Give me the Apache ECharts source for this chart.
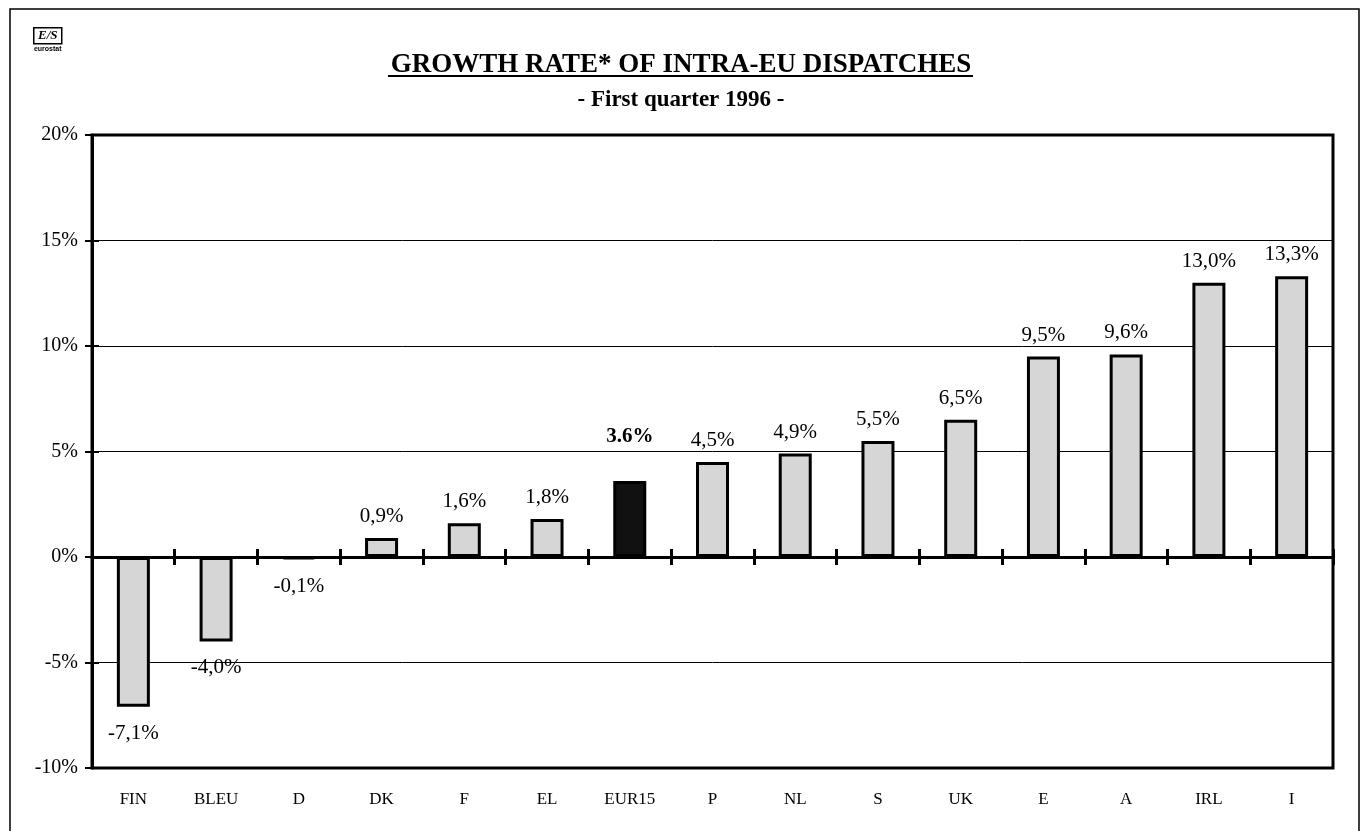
<!DOCTYPE html>
<html><head><meta charset="utf-8">
<script src="https://cdn.jsdelivr.net/npm/echarts@6/dist/echarts.min.js"></script>
<style>html,body{margin:0;padding:0;background:#fff}#c{width:1362px;height:831px}</style>
</head><body><div id="c"></div>
<script>
const categories = ['FIN','BLEU','D','DK','F','EL','EUR15','P','NL','S','UK','E','A','IRL','I'];
const growthValues = [-7.1,-4.0,-0.1,0.9,1.6,1.8,3.6,4.5,4.9,5.5,6.5,9.5,9.6,13.0,13.3];
const highlightCategory = 'EUR15';
const yMin = -10, yMax = 20, yStep = 5;
const titleText = 'GROWTH RATE* OF INTRA-EU DISPATCHES';
const subtitleText = '- First quarter 1996 -';

const SERIF = "'Liberation Serif','Times New Roman',serif";
const chart = echarts.init(document.getElementById('c'), null, {renderer:'canvas'});

const barData = growthValues.map((v, i) => {
  const hi = categories[i] === highlightCategory;
  return {
    value: v,
    itemStyle: hi ? {color:'#111', borderColor:'#000'} : {},
    label: {
      position: v < 0 ? 'bottom' : 'top',
      distance: v < 0 ? 16 : (hi ? 34 : 11),
      fontWeight: hi ? 'bold' : 'normal',
      formatter: hi ? (p => p.value.toFixed(1) + '%') : (p => p.value.toFixed(1).replace('.', ',') + '%')
    }
  };
});

const zeroAxisBase = {
  type:'category', data: categories, position:'bottom',
  axisLine:{onZero:true, onZeroAxisIndex:0, lineStyle:{color:'#000', width:3}},
  axisLabel:{show:false}, splitLine:{show:false}
};

chart.setOption({
  animation:false,
  backgroundColor:'#fff',
  title:[
    {text:titleText, left:'center', top:47, textStyle:{fontFamily:SERIF, fontSize:27, fontWeight:'bold', color:'#000'}},
    {text:subtitleText, left:'center', top:84, textStyle:{fontFamily:SERIF, fontSize:23, fontWeight:'bold', color:'#000'}}
  ],
  grid:{left:92, right:29, top:135, bottom:63, show:true, borderColor:'#000', borderWidth:3, backgroundColor:'transparent'},
  xAxis:[
    {type:'category', data:categories, position:'bottom',
     axisLine:{onZero:false, show:false}, axisTick:{show:false},
     axisLabel:{fontFamily:SERIF, fontSize:17, color:'#000', margin:23}},
    Object.assign({}, zeroAxisBase, {axisTick:{show:true, inside:false, length:8, lineStyle:{color:'#000', width:3}}}),
    Object.assign({}, zeroAxisBase, {axisTick:{show:true, inside:true, length:8, lineStyle:{color:'#000', width:3}}})
  ],
  yAxis:[
    {type:'value', min:yMin, max:yMax, interval:yStep, position:'left',
     axisLine:{show:true, lineStyle:{color:'#000', width:3}},
     axisTick:{show:true, length:7, lineStyle:{color:'#000', width:2}},
     axisLabel:{fontFamily:SERIF, fontSize:20, color:'#000', margin:14, formatter: v => v + '%'},
     splitLine:{show:true, lineStyle:{color:'#000', width:1}}},
    {type:'value', min:yMin, max:yMax, interval:yStep, position:'left',
     axisLine:{show:false}, axisLabel:{show:false}, splitLine:{show:false},
     axisTick:{show:true, inside:true, length:7, lineStyle:{color:'#000', width:2}}}
  ],
  series:[{
    type:'bar', xAxisIndex:0, yAxisIndex:0, data:barData, barWidth:33,
    itemStyle:{color:'#d6d6d6', borderColor:'#000', borderWidth:3},
    label:{show:true, fontFamily:SERIF, fontSize:21, color:'#000'}
  }],
  graphic:[
    {type:'rect', shape:{x:10, y:9, width:1349, height:840}, style:{fill:'none', stroke:'#000', lineWidth:1.5}, z:-1},
    {type:'line', shape:{x1:388, y1:76, x2:973, y2:76}, style:{stroke:'#000', lineWidth:2}},
    {type:'group', left:33, top:27, children:[
      {type:'rect', shape:{x:0, y:0, width:28, height:16}, style:{fill:'#fff', stroke:'#000', lineWidth:1.5}},
      {type:'text', style:{x:14, y:8, text:'E/S', align:'center', verticalAlign:'middle', font:'bold italic 13px ' + SERIF, fill:'#000'}},
      {type:'text', style:{x:14, y:21, text:'eurostat', align:'center', verticalAlign:'middle', font:'bold 7px Arial, sans-serif', fill:'#000'}}
    ]}
  ]
});
</script></body></html>
